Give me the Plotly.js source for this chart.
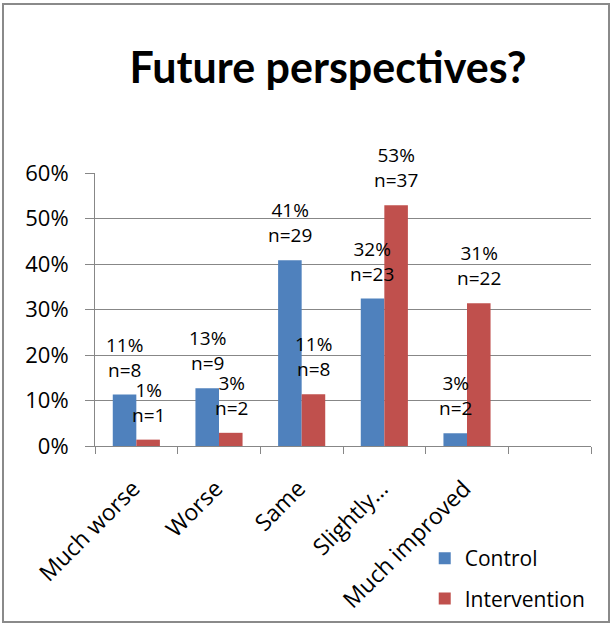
<!DOCTYPE html>
<html>
<head>
<meta charset="utf-8">
<script src="https://cdn.plot.ly/plotly-3.0.1.min.js"></script>
<style>
  body { margin: 0; padding: 0; background: #fff; }
  #wrap { position: relative; width: 612px; height: 623px; }
  #chart { width: 612px; height: 623px; }
  #frame { position: absolute; left: 2px; top: 3px; width: 604px; height: 616px;
           border: 2px solid #8a8a8a; pointer-events: none; }
</style>
</head>
<body>
<div id="wrap">
  <div id="chart"></div>
  <div id="frame"></div>
</div>
<script>
const categories = ["Much worse", "Worse", "Same", "Slightly…", "Much improved", " "];
const controlPct = [11.3, 12.7, 40.8, 32.4, 2.8, null];
const interventionPct = [1.4, 2.9, 11.4, 52.9, 31.4, null];
const controlN = [8, 9, 29, 23, 2];
const interventionN = [1, 2, 8, 37, 22];
const yTicks = [0, 10, 20, 30, 40, 50, 60];
const yTickLabels = ["0%", "10%", "20%", "30%", "40%", "50%", "60%"];

const FONT = "'Open Sans', sans-serif";
const TITLE_FONT = "Lato, 'Open Sans', sans-serif";
const gridColor = "#878787";

const traces = [
  { type: "bar", name: "Control", x: categories, y: controlPct,
    marker: { color: "#4F81BD" }, legendgroup: "c", hoverinfo: "skip" },
  { type: "bar", name: "Intervention", x: categories, y: interventionPct,
    marker: { color: "#C0504D" }, legendgroup: "i", hoverinfo: "skip" }
];

const annotations = [];
function addLabels(vals, ns, shift) {
  ns.forEach((n, i) => {
    annotations.push({
      x: categories[i], y: vals[i], xref: "x", yref: "y",
      text: Math.round(vals[i]) + "%<br>n=" + n,
      showarrow: false, xanchor: "center", yanchor: "bottom",
      xshift: shift, yshift: 10,
      font: { family: FONT, size: 19, color: "#000" }
    });
  });
}
addLabels(controlPct, controlN, -12);
addLabels(interventionPct, interventionN, 12);

const layout = {
  width: 612, height: 623,
  margin: { l: 95, r: 21, t: 173, b: 177, autoexpand: false },
  paper_bgcolor: "#fff", plot_bgcolor: "#fff",
  font: { family: FONT, color: "#000" },
  title: { text: "<b>Future perspectives?</b>", xref: "container", x: 0.536, xanchor: "center",
           yref: "container", y: 0.891, yanchor: "middle",
           font: { family: TITLE_FONT, size: 43, color: "#000" } },
  barmode: "group", bargap: 0.43, bargroupgap: 0,
  xaxis: {
    type: "category", categoryorder: "array", categoryarray: categories,
    showline: true, linecolor: gridColor, linewidth: 1,
    ticks: "outside", tickson: "boundaries", ticklen: 7, tickcolor: gridColor,
    tickangle: -45, tickfont: { family: FONT, size: 23, color: "#000" },
    ticklabelstandoff: 19, ticklabelshift: -3,
    showgrid: false, fixedrange: true, automargin: false
  },
  yaxis: {
    range: [0, 60], tickmode: "array", tickvals: yTicks, ticktext: yTickLabels,
    showline: true, linecolor: gridColor, linewidth: 1,
    ticks: "outside", ticklen: 9, tickcolor: gridColor,
    showgrid: true, gridcolor: gridColor, gridwidth: 1,
    zeroline: false,
    tickfont: { family: FONT, size: 22, color: "#000" },
    ticklabelstandoff: 12, fixedrange: true, automargin: false
  },
  showlegend: true,
  legend: {
    xref: "container", yref: "container",
    x: 0.694, y: 0.1364, xanchor: "left", yanchor: "top",
    font: { family: FONT, size: 21, color: "#000" },
    tracegroupgap: 10, bgcolor: "rgba(0,0,0,0)", itemwidth: 30
  },
  annotations: annotations
};

Plotly.newPlot("chart", traces, layout, { displayModeBar: false, staticPlot: true });
</script>
</body>
</html>
